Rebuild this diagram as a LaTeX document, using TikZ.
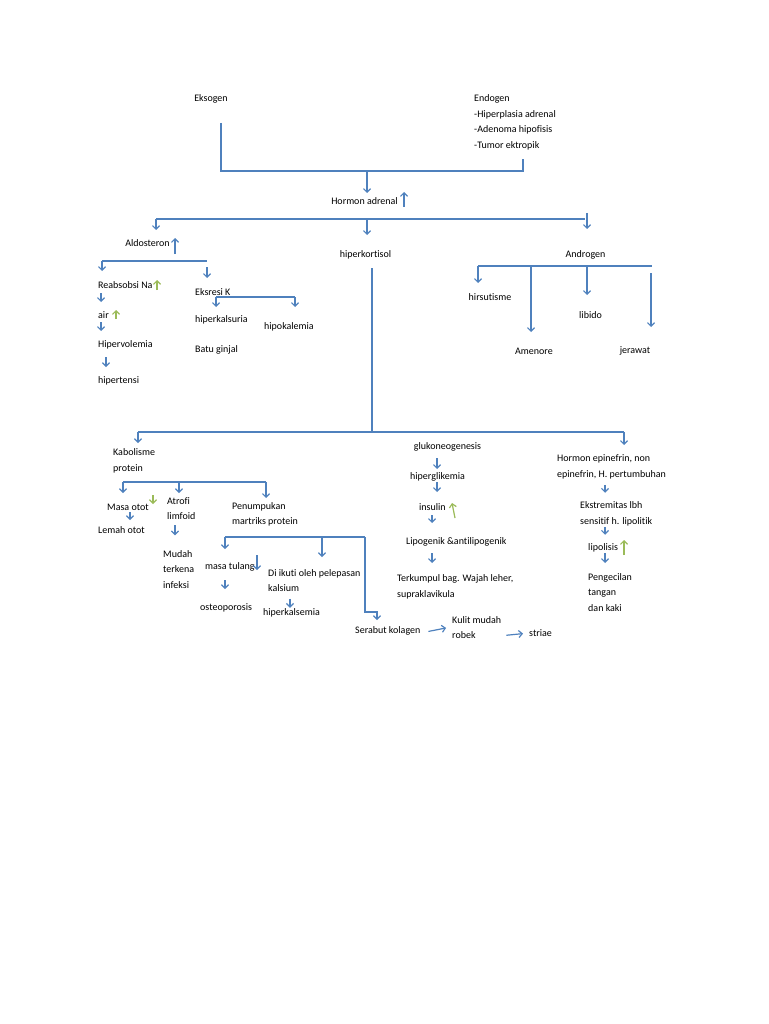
\documentclass[tikz,border=0pt]{standalone}
\usepackage{fontspec}
\setmainfont{Carlito}[Ligatures=NoCommon]
\usetikzlibrary{arrows.meta}
\definecolor{lineblue}{RGB}{79,129,189}
\definecolor{upgreen}{RGB}{155,187,89}
\tikzset{
  lbl/.style={font=\fontsize{10}{15.5}\selectfont, inner sep=0pt, align=left},
  bus/.style={draw=lineblue, line width=1.2pt},
  flow/.style={bus, -{Straight Barb[length=3.5pt,width=7pt]}},
  greenflow/.style={flow, draw=upgreen},
}
\begin{document}
\begin{tikzpicture}[x=1pt, y=-1pt]
\useasboundingbox (0,0) rectangle (768,1024);
% sebab
\node[lbl] (eks) at (211,99) {Eksogen};
\node[lbl, anchor=west] (endo) at (474,122.5) {Endogen\\-Hiperplasia adrenal\\-Adenoma hipofisis\\-Tumor ektropik};
\coordinate (tL) at (221,171);
\coordinate (tM) at (367,171);
\coordinate (tR) at (523,171);
\draw[bus] ([shift={(10,24)}]eks.center) -- (tL) -- (tR) -- ++(0,-12);
\draw[flow] (tM) -- ++(0,22);
\node[lbl] (hormon) at (364.5,201) {Hormon adrenal};
\draw[flow] ([shift={(39.5,6)}]hormon.center) -- ++(0,-15);
% cabang hormon
\coordinate (aL) at (156,219);
\coordinate (aM) at (367,219);
\coordinate (aR) at (585,219);
\draw[bus] (aL) -- (aR);
\draw[flow] (aL) -- ++(0,11);
\draw[flow] (aM) -- ++(0,16);
\draw[flow] ([shift={(2,-6)}]aR) -- ++(0,16);
% aldosteron
\node[lbl] (aldo) at (147.5,243) {Aldosteron};
\draw[flow] ([shift={(27.5,11)}]aldo.center) -- ++(0,-16);
\coordinate (bL) at (102,261);
\coordinate (bR) at (207,261);
\draw[bus] (bL) -- (bR);
\draw[flow] (bL) -- ++(0,10);
\draw[flow] ([shift={(0,6)}]bR) -- ++(0,11);
\node[lbl, anchor=west] (reab) at (98,285) {Reabsobsi Na};
\draw[greenflow] ([shift={(59,5)}]reab.west) -- ++(0,-10);
\draw[flow] ([shift={(3,8)}]reab.west) -- ++(0,9);
\node[lbl, anchor=west] (air) at (98,315) {air};
\draw[greenflow] ([shift={(18,4)}]air.west) -- ++(0,-9);
\draw[flow] ([shift={(3,7)}]air.west) -- ++(0,9);
\node[lbl, anchor=west] (hiperv) at (98,345) {Hipervolemia};
\draw[flow] ([shift={(8,12)}]hiperv.west) -- ++(0,10);
\node[lbl, anchor=west] (hipert) at (98,381) {hipertensi};
\node[lbl, anchor=west] (eksresi) at (195,292) {Eksresi K};
\coordinate (cL) at (216,297);
\coordinate (cR) at (295,297);
\draw[bus] (cL) -- (cR);
\draw[flow] (cL) -- ++(0,10);
\draw[flow] (cR) -- ++(0,10);
\node[lbl, anchor=west] (hkalsuria) at (195,320) {hiperkalsuria};
\node[lbl, anchor=west] (hipokal) at (264,327) {hipokalemia};
\node[lbl, anchor=west] (batu) at (195,350) {Batu ginjal};
% androgen
\node[lbl] (andro) at (585.5,255) {Androgen};
\coordinate (eL) at (478,266);
\coordinate (eA) at (531,266);
\coordinate (eB) at (587,266);
\coordinate (eR) at (652,266);
\draw[bus] (eL) -- (eR);
\draw[flow] (eL) -- ++(0,17);
\draw[flow] (eA) -- ++(0,66);
\draw[flow] (eB) -- ++(0,29);
\draw[flow] ([shift={(-1,7)}]eR) -- ++(0,54);
\node[lbl] (hirsut) at (490,297) {hirsutisme};
\node[lbl] (libido) at (590.5,315) {libido};
\node[lbl] (amen) at (534,351) {Amenore};
\node[lbl] (jerawat) at (635,351) {jerawat};
% hiperkortisol
\node[lbl] (hiperk) at (365.5,255) {hiperkortisol};
\coordinate (dL) at (138,432);
\coordinate (dM) at (372,432);
\coordinate (dR) at (624,432);
\draw[bus] ([shift={(6.5,13)}]hiperk.center) -- (dM);
\draw[bus] (dL) -- (dR);
\draw[flow] (dL) -- ++(0,11);
\draw[flow] (dR) -- ++(0,13);
% kabolisme protein
\node[lbl, anchor=west] (kabol) at (113,460.75) {Kabolisme\\protein};
\coordinate (fL) at (123,482);
\coordinate (fM) at (179,482);
\coordinate (fR) at (266,482);
\draw[bus] (fL) -- (fR);
\draw[flow] (fL) -- ++(0,11);
\draw[flow] (fM) -- ++(0,11);
\draw[flow] (fR) -- ++(0,16);
\node[lbl, anchor=west] (masa) at (107,507) {Masa otot};
\draw[greenflow] ([shift={(46,-12)}]masa.west) -- ++(0,9);
\draw[flow] ([shift={(23,5)}]masa.west) -- ++(0,8);
\node[lbl, anchor=west] (lemah) at (98,530) {Lemah otot};
\node[lbl, anchor=west] (atrofi) at (167,508.75) {Atrofi\\limfoid};
\draw[flow] ([shift={(8,16.5)}]atrofi.west) -- ++(0,10);
\node[lbl, anchor=west] (mudah) at (163,569.5) {Mudah\\terkena\\infeksi};
\node[lbl, anchor=west] (penum) at (232,514.25) {Penumpukan\\martriks protein};
\coordinate (gL) at (225,537);
\coordinate (gM) at (322,537);
\coordinate (gR) at (365,537);
\coordinate (gC) at (365,612);
\draw[bus] (gL) -- (gR);
\draw[flow] (gL) -- ++(0,12);
\draw[flow] (gM) -- ++(0,20);
\draw[flow] (gR) -- (gC) -- ++(12,0) -- ++(0,8);
\node[lbl, anchor=west] (tulang) at (205,567) {masa tulang};
\draw[flow] ([shift={(52,-12)}]tulang.west) -- ++(0,15);
\draw[flow] ([shift={(20,13)}]tulang.west) -- ++(0,9);
\node[lbl, anchor=west] (osteo) at (200,608) {osteoporosis};
\node[lbl, anchor=west] (diikuti) at (268,580.75) {Di ikuti oleh pelepasan\\kalsium};
\draw[flow] ([shift={(22,18)}]diikuti.west) -- ++(0,9);
\node[lbl, anchor=west] (hkalsemia) at (263,613) {hiperkalsemia};
\node[lbl, anchor=west] (serabut) at (355,631) {Serabut kolagen};
\node[lbl, anchor=west] (kulit) at (452,627.75) {Kulit mudah\\robek};
\node[lbl, anchor=west] (striae) at (529,633) {striae};
\draw[flow, shorten <=8pt, shorten >=6pt] ([shift={(0,2)}]serabut.east) -- ([shift={(0,-1)}]kulit.west);
\draw[flow, shorten <=5pt, shorten >=6pt] ([shift={(0,8)}]kulit.east) -- (striae.west);
% glukoneogenesis
\node[lbl] (gluko) at (447.5,447) {glukoneogenesis};
\draw[flow] ([shift={(-10.5,11)}]gluko.center) -- ++(0,11);
\node[lbl, anchor=west] (hglik) at (410,477) {hiperglikemia};
\draw[flow] ([shift={(27,5)}]hglik.west) -- ++(0,10);
\node[lbl, anchor=west] (insulin) at (419,507) {insulin};
\draw[greenflow] ([shift={(36,11)}]insulin.west) -- ++(-3,-15);
\draw[flow] ([shift={(13,8)}]insulin.west) -- ++(0,8);
\node[lbl, anchor=west] (lipog) at (406,542) {Lipogenik \&antilipogenik};
\draw[flow] ([shift={(26,11)}]lipog.west) -- ++(0,10);
\node[lbl, anchor=west] (terkumpul) at (397,586.75) {Terkumpul bag. Wajah leher,\\supraklavikula};
% epinefrin
\node[lbl, anchor=west] (epi) at (557,466.75) {Hormon epinefrin, non\\epinefrin, H. pertumbuhan};
\draw[flow] ([shift={(48,18)}]epi.west) -- ++(0,8);
\node[lbl, anchor=west] (ekstr) at (580,513.75) {Ekstremitas lbh\\sensitif h. lipolitik};
\draw[flow] ([shift={(25,13)}]ekstr.west) -- ++(0,8);
\node[lbl, anchor=west] (lipol) at (588,548) {lipolisis};
\draw[greenflow] ([shift={(36,7)}]lipol.west) -- ++(0,-15);
\draw[flow] ([shift={(17,5)}]lipol.west) -- ++(0,10);
\node[lbl, anchor=west] (pengec) at (588,592.5) {Pengecilan\\tangan\\dan kaki};
\end{tikzpicture}
\end{document}
